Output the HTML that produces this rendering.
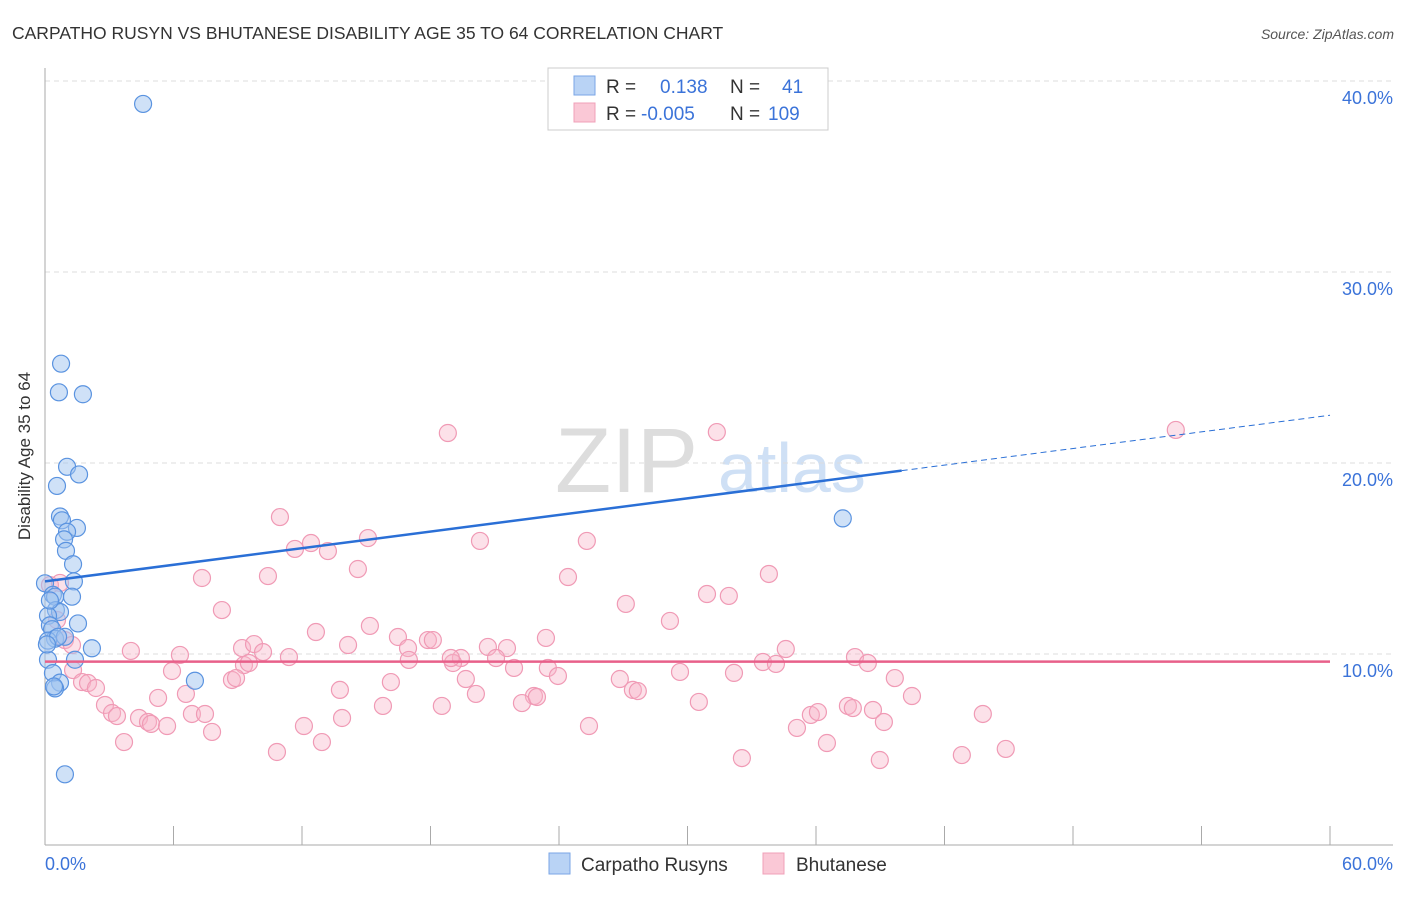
<!DOCTYPE html>
<html><head><meta charset="utf-8"><style>
body{margin:0;background:#fff;font-family:"Liberation Sans",sans-serif}
svg text{font-family:"Liberation Sans",sans-serif}
</style></head><body>
<svg id="c" width="1406" height="892">
<text x="12" y="39" font-size="17.5" fill="#333">CARPATHO RUSYN VS BHUTANESE DISABILITY AGE 35 TO 64 CORRELATION CHART</text>
<text x="1394" y="39" font-size="14" fill="#555" font-style="italic" text-anchor="end">Source: ZipAtlas.com</text>
<g><text x="555" y="492" font-size="92" fill="#ddd" font-family="Liberation Serif">ZIP</text><text x="718" y="492" font-size="70" fill="#cfe0f5">atlas</text></g>
<g id="grid"></g>
<line x1="45" y1="68" x2="45" y2="845" stroke="#aaa"/>
<line x1="45" y1="845" x2="1393" y2="845" stroke="#aaa"/>
<text x="30" y="456" font-size="17" fill="#333" text-anchor="middle" transform="rotate(-90 30 456)">Disability Age 35 to 64</text>
<text x="45" y="870" font-size="18" fill="#3b73d9">0.0%</text>
<text x="1393" y="870" font-size="18" fill="#3b73d9" text-anchor="end">60.0%</text>
<g id="pts"></g>
<g id="lines"></g>
<g>
<rect x="548" y="68" width="280" height="62" fill="#fff" stroke="#ccc"/>
<rect x="574" y="76" width="21" height="19" fill="#b9d3f5" stroke="#7aa6e6"/>
<rect x="574" y="103" width="21" height="19" fill="#fac8d6" stroke="#f0a0b8"/>
<text x="606" y="93" font-size="19" fill="#333">R = </text><text x="660" y="93" font-size="19" fill="#3b73d9">0.138</text>
<text x="730" y="93" font-size="19" fill="#333">N = </text><text x="782" y="93" font-size="19" fill="#3b73d9">41</text>
<text x="606" y="120" font-size="19" fill="#333">R = </text><text x="641" y="120" font-size="19" fill="#3b73d9">-0.005</text>
<text x="730" y="120" font-size="19" fill="#333">N = </text><text x="768" y="120" font-size="19" fill="#3b73d9">109</text>
</g>
<g>
<rect x="549" y="853" width="21" height="21" fill="#b9d3f5" stroke="#7aa6e6"/>
<text x="581" y="871" font-size="19" fill="#333">Carpatho Rusyns</text>
<rect x="763" y="853" width="21" height="21" fill="#fac8d6" stroke="#f0a0b8"/>
<text x="796" y="871" font-size="19" fill="#333">Bhutanese</text>
</g>
</svg>
<script>
const yTicks=[10,20,30,40];
const yTickLabels=["10.0%","20.0%","30.0%","40.0%"];
const xTicks=[0,6,12,18,24,30,36,42,48,54,60];
const blueX=[4.58,0.75,0.65,1.77,1.03,1.59,0.56,0.70,0.79,1.49,1.03,0.89,0.98,1.31,1.35,0.0,0.37,0.47,1.26,0.51,0.70,1.54,0.14,0.23,0.33,0.47,0.14,2.19,0.93,1.40,0.14,0.37,0.70,0.47,7.0,37.25,0.93,0.23,0.61,0.09,0.42];
const blueY=[38.8,25.2,23.7,23.6,19.8,19.4,18.8,17.2,17.0,16.6,16.4,16.0,15.4,14.7,13.8,13.7,13.1,13.0,13.0,12.3,12.2,11.6,12.0,11.5,11.3,10.8,10.7,10.3,10.9,9.7,9.7,9.0,8.5,8.2,8.6,17.1,3.7,12.8,10.9,10.5,8.3];
const pinkX=[18.81,31.37,52.80,10.97,15.08,11.67,12.42,13.21,20.31,25.30,14.61,7.33,10.41,24.42,33.80,0.23,0.70,8.26,27.12,30.91,31.93,29.18,12.65,15.17,0.56,0.93,1.26,14.15,16.48,16.95,17.88,18.11,20.68,21.57,23.39,9.20,9.76,10.18,4.01,6.30,11.39,16.99,19.42,19.05,21.06,21.90,23.48,23.95,26.84,29.65,32.17,33.52,34.13,34.59,37.82,38.42,39.68,1.31,1.73,2.01,2.38,5.93,13.77,16.15,19.65,20.12,22.83,27.45,27.68,9.29,9.52,5.28,6.58,8.73,2.80,3.13,3.36,4.39,4.81,4.95,5.70,6.86,7.47,7.80,12.09,13.87,15.78,18.53,22.27,22.97,25.40,30.53,35.11,35.76,36.09,37.49,37.72,38.66,39.17,40.48,43.79,3.69,10.83,12.93,32.54,36.51,38.98,42.81,44.86,8.92,18.95];
const pinkY=[21.57,21.62,21.73,17.17,16.07,15.50,15.81,15.39,15.92,15.92,14.45,13.98,14.08,14.03,14.19,13.61,13.72,12.30,12.62,13.14,13.04,11.73,11.15,11.47,11.78,10.73,10.47,10.47,10.89,10.31,10.73,10.73,10.37,10.31,10.84,10.31,10.52,10.10,10.16,9.95,9.84,9.69,9.79,9.53,9.79,9.27,9.27,8.85,8.69,9.06,9.01,9.58,9.48,10.26,9.84,9.53,8.74,9.16,8.53,8.48,8.22,9.11,8.12,8.53,8.69,7.91,7.80,8.12,8.06,9.42,9.53,7.70,7.91,8.64,7.33,6.91,6.75,6.65,6.44,6.34,6.23,6.86,6.86,5.92,6.23,6.65,7.28,7.28,7.43,7.75,6.23,7.49,6.13,6.81,6.96,7.28,7.17,7.07,6.44,7.80,6.86,5.39,4.87,5.39,4.55,5.34,4.45,4.71,5.03,8.74,9.79];
const blueTrend=[13.8,19.6,22.5]; // at x=0, 40, 60
const pinkTrend=[9.6,9.6];
const X=v=>45+v*(1285/60), Y=v=>845-v*19.1;
const NS="http://www.w3.org/2000/svg";
function mk(t,a,p){const e=document.createElementNS(NS,t);for(const k in a)e.setAttribute(k,a[k]);p.appendChild(e);return e;}
const g=document.getElementById('grid');
yTicks.forEach((v,i)=>{
 const l=mk('line',{x1:45,x2:1393,y1:Y(v),y2:Y(v),stroke:'#ddd','stroke-dasharray':'5,4'},g);
 
 
 const t=mk('text',{x:1393,y:Y(v)+23,'font-size':18,fill:'#3b73d9','text-anchor':'end'},g);
 t.textContent=yTickLabels[i];
 
 
});
xTicks.forEach(v=>{
 const l=mk('line',{x1:X(v),x2:X(v),y1:826,y2:845,stroke:'#aaa'},g);
 
 
});
const p=document.getElementById('pts');
pinkX.forEach((v,i)=>{
 const c=mk('circle',{cx:X(v),cy:Y(pinkY[i]),r:8.5,fill:'rgba(248,180,200,0.4)',stroke:'#f09ab5','stroke-width':1.2},p);
 
 
});
blueX.forEach((v,i)=>{
 const c=mk('circle',{cx:X(v),cy:Y(blueY[i]),r:8.5,fill:'rgba(160,196,240,0.5)',stroke:'#5a93e0','stroke-width':1.2},p);
 
 
});
const L=document.getElementById('lines');
const b1=mk('line',{x1:X(0),y1:Y(blueTrend[0]),x2:X(40),y2:Y(blueTrend[1]),stroke:'#2a6fd6','stroke-width':2.5},L);


const b2=mk('line',{x1:X(40),y1:Y(blueTrend[1]),x2:X(60),y2:Y(blueTrend[2]),stroke:'#2a6fd6','stroke-width':1,'stroke-dasharray':'6,4'},L);


const pl=mk('line',{x1:X(0),y1:Y(pinkTrend[0]),x2:X(60),y2:Y(pinkTrend[1]),stroke:'#e8608a','stroke-width':2.5},L);


</script>
</body></html>
